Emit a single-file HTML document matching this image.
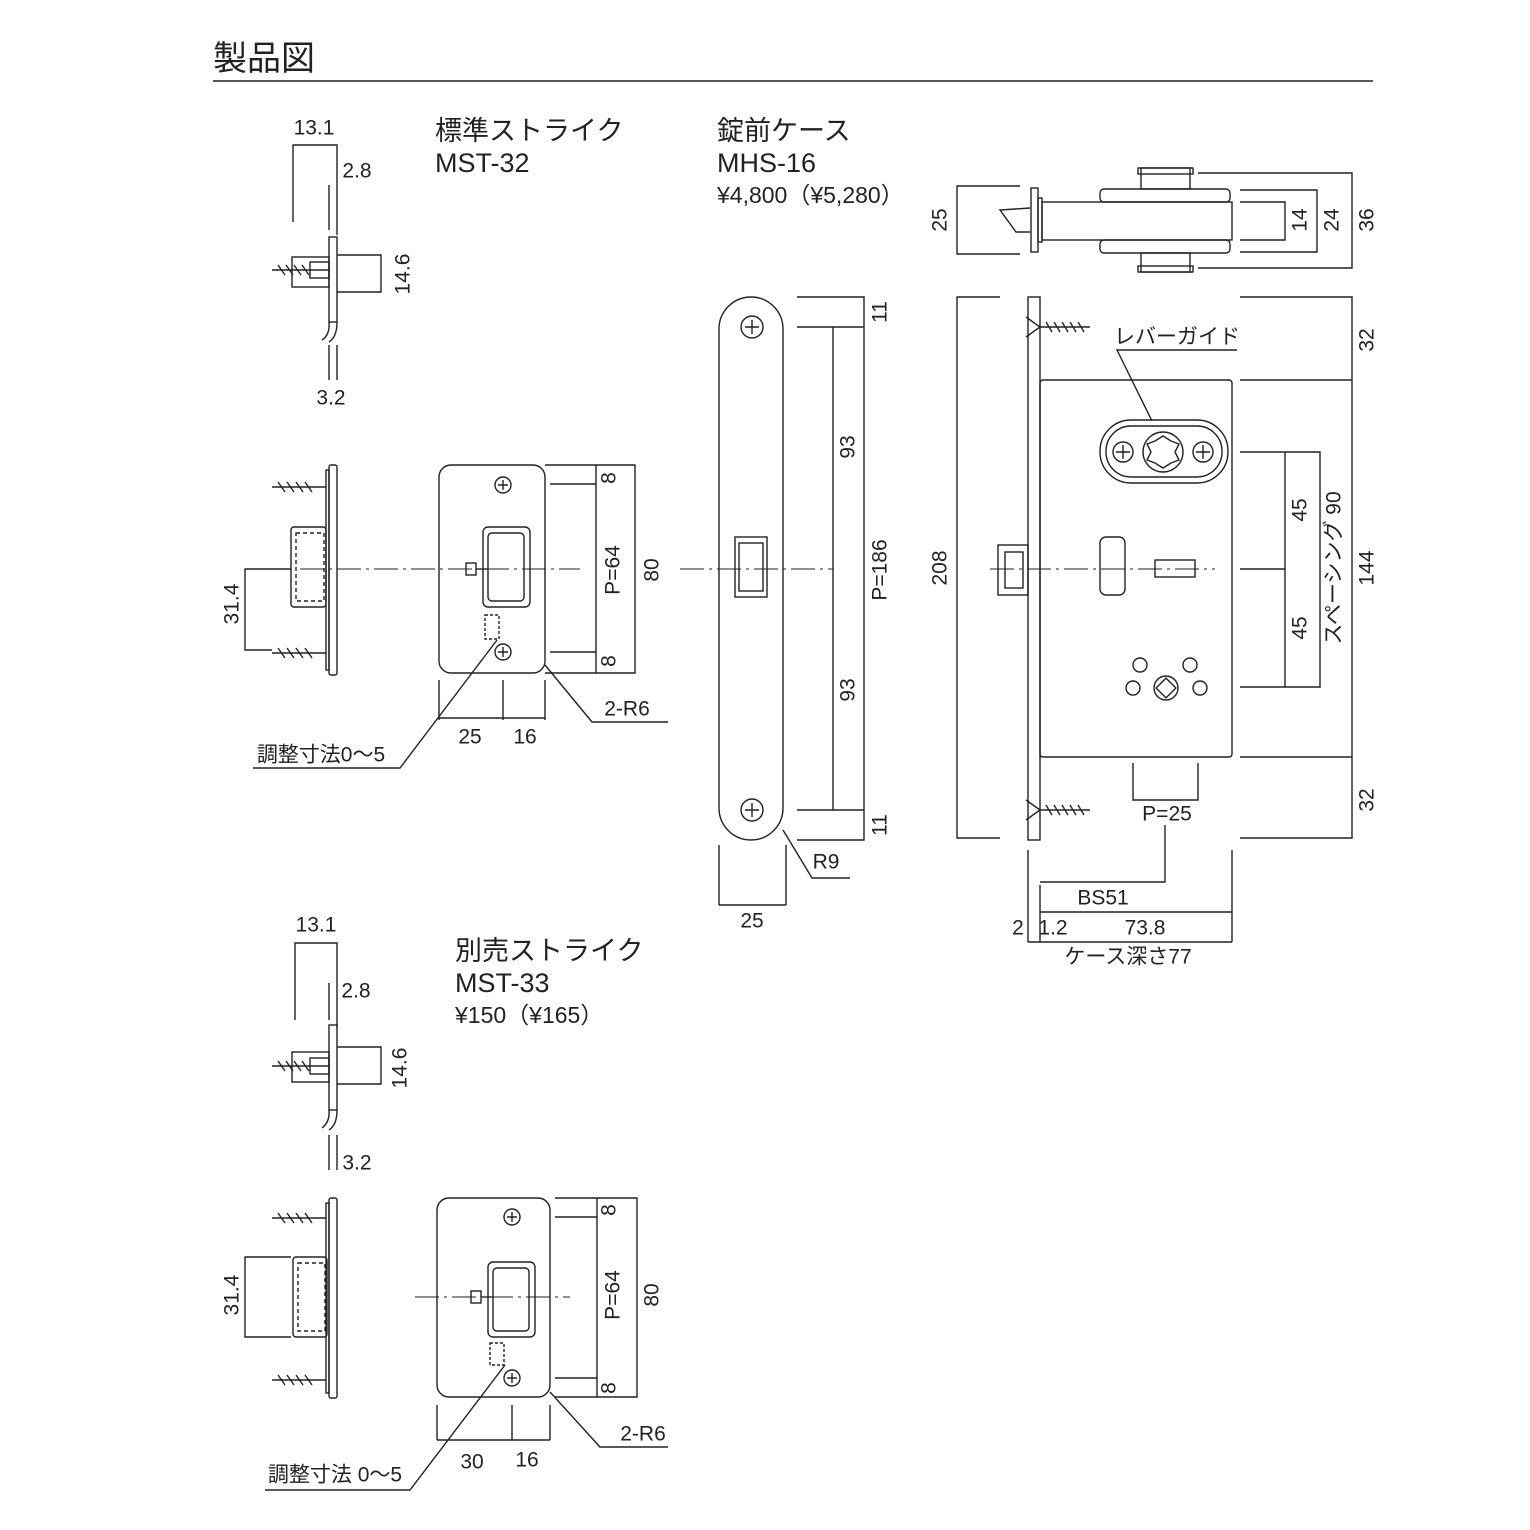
<!DOCTYPE html>
<html><head><meta charset="utf-8"><style>
html,body{margin:0;padding:0;background:#fff}
svg{display:block}
text{font-family:"Liberation Sans","Noto Sans CJK JP",sans-serif;fill:#222}
</style></head><body>
<svg width="1530" height="1530" viewBox="0 0 1530 1530" xmlns="http://www.w3.org/2000/svg">
<g fill="none" stroke="#222" stroke-width="1.4">
<line x1="213" y1="81" x2="1373" y2="81"/>

<polyline points="293,222 293,145 337,145 337,235"/>
<line x1="329" y1="185" x2="329" y2="230"/>
<rect x="329" y="237" width="8" height="85"/>
<path d="M329,322 Q330,335 322,340 M337,322 Q337,337 329,342"/>
<line x1="329" y1="345" x2="329" y2="380"/><line x1="337" y1="345" x2="337" y2="380"/>
<rect x="292" y="257" width="37" height="30"/>
<path d="M272,270 L330,270 M278,265 L285,275 M286,265 L293,275 M294,265 L301,275 M302,265 L309,275" />
<rect x="310" y="262" width="19" height="16"/>
<polyline points="337,255 381,255 381,292 337,292"/>

<rect x="329" y="465" width="8" height="210" rx="2"/>
<rect x="326" y="470" width="3" height="200"/>
<path d="M272,487 L326,487 M278,482 L285,492 M287,482 L294,492 M296,482 L303,492 M305,482 L312,492"/>
<path d="M272,653 L326,653 M278,648 L285,658 M287,648 L294,658 M296,648 L303,658 M305,648 L312,658"/>
<rect x="291" y="527" width="35" height="80" rx="3"/>
<rect x="296" y="533" width="28" height="68" stroke-dasharray="4,3"/>
<polyline points="291,569 245,569 245,650 272,650"/>
<line x1="300" y1="569" x2="580" y2="569" stroke-dasharray="24,5,3,5" stroke-width="1"/>

<rect x="439" y="465" width="106" height="208" rx="12"/>
<circle cx="503" cy="485" r="8"/><path d="M498,485h10M503,480v10"/>
<circle cx="503" cy="652" r="8"/><path d="M498,652h10M503,647v10"/>
<rect x="483" y="527" width="47" height="80" rx="5"/>
<rect x="488" y="533" width="36" height="68" rx="4"/>
<rect x="466" y="563" width="10" height="12"/>
<line x1="476" y1="569" x2="488" y2="569"/>
<rect x="485" y="615" width="14" height="24" stroke-dasharray="3,2"/>
<polyline points="545,465 635,465 635,673 545,673"/>
<line x1="596" y1="465" x2="596" y2="673"/>
<line x1="550" y1="484" x2="596" y2="484"/><line x1="550" y1="652" x2="596" y2="652"/>
<line x1="439" y1="680" x2="439" y2="720"/><line x1="503" y1="680" x2="503" y2="720"/><line x1="545" y1="680" x2="545" y2="720"/>
<line x1="439" y1="718" x2="545" y2="718"/>
<polyline points="545,665 592,722 668,722"/>
<polyline points="253,768 400,768 497,640"/>

<rect x="719" y="297" width="64" height="543" rx="32"/>
<circle cx="752" cy="327" r="11"/><path d="M745,327h14M752,320v14"/>
<circle cx="752" cy="810" r="11"/><path d="M745,810h14M752,803v14"/>
<rect x="735" y="537" width="32" height="60"/>
<rect x="739" y="543" width="24" height="48"/>
<line x1="680" y1="569" x2="833" y2="569" stroke-dasharray="24,5,3,5" stroke-width="1"/>
<polyline points="797,297 864,297 864,840 797,840"/>
<line x1="797" y1="327" x2="864" y2="327"/><line x1="797" y1="810" x2="864" y2="810"/>
<line x1="833" y1="327" x2="833" y2="810"/>
<line x1="719" y1="845" x2="719" y2="905"/><line x1="786" y1="845" x2="786" y2="905"/>
<line x1="719" y1="905" x2="786" y2="905"/>
<polyline points="783,830 812,878 850,878"/>

<polyline points="1020,186 957,186 957,254 1020,254"/>
<path d="M1030,208 L1000,210 L1016,232 L1030,232"/>
<rect x="1031" y="188" width="7" height="64"/>
<rect x="1038" y="198" width="4" height="44"/>
<rect x="1042" y="202" width="190" height="38"/>
<rect x="1100" y="189" width="130" height="13" rx="4"/>
<rect x="1100" y="240" width="130" height="13" rx="4"/>
<rect x="1141" y="168" width="49" height="21"/>
<rect x="1138" y="168" width="55" height="6"/>
<rect x="1141" y="253" width="49" height="19"/>
<rect x="1138" y="266" width="55" height="6"/>
<polyline points="1240,202 1285,202 1285,240 1240,240"/>
<polyline points="1240,190 1317,190 1317,252 1240,252"/>
<polyline points="1198,173 1352,173 1352,268 1198,268"/>

<rect x="1028" y="297" width="12" height="543"/>
<rect x="1040" y="380" width="192" height="377" rx="3"/>
<path d="M1040,327 L1090,327 M1046,322 L1052,332 M1054,322 L1060,332 M1062,322 L1068,332 M1070,322 L1076,332 M1078,322 L1084,332"/>
<path d="M1026,317 L1040,327 L1026,337"/>
<path d="M1040,810 L1090,810 M1046,805 L1052,815 M1054,805 L1060,815 M1062,805 L1068,815 M1070,805 L1076,815 M1078,805 L1084,815"/>
<path d="M1026,800 L1040,810 L1026,820"/>
<rect x="1100" y="420" width="128" height="63" rx="31"/>
<rect x="1106" y="426" width="116" height="51" rx="25"/>
<circle cx="1123" cy="452" r="10"/><path d="M1116,452h14M1123,445v14"/>
<circle cx="1203" cy="452" r="10"/><path d="M1196,452h14M1203,445v14"/>
<circle cx="1163" cy="452" r="20"/>
<polygon points="1163,436 1171,441 1179,444 1175,452 1179,460 1171,463 1163,468 1155,463 1147,460 1151,452 1147,444 1155,441"/>
<polyline points="1237,350 1117,350 1152,421"/>
<rect x="998" y="545" width="30" height="50"/>
<rect x="1005" y="552" width="18" height="36"/>
<line x1="990" y1="569" x2="1215" y2="569" stroke-dasharray="24,5,3,5" stroke-width="1"/>
<rect x="1100" y="537" width="25" height="58" rx="6"/>
<rect x="1155" y="560" width="40" height="17"/>
<circle cx="1140" cy="665" r="7"/><circle cx="1190" cy="665" r="7"/>
<circle cx="1133" cy="688" r="7"/><circle cx="1200" cy="688" r="7"/>
<circle cx="1166" cy="688" r="12"/>
<rect x="1159" y="681" width="14" height="14" transform="rotate(45 1166 688)"/>
<polyline points="1000,297 957,297 957,838 1000,838"/>
<polyline points="1240,297 1352,297 1352,838 1240,838"/>
<line x1="1240" y1="380" x2="1352" y2="380"/><line x1="1240" y1="757" x2="1352" y2="757"/>
<polyline points="1240,452 1320,452 1320,687 1240,687"/>
<line x1="1240" y1="569" x2="1285" y2="569"/>
<line x1="1285" y1="452" x2="1285" y2="687"/>
<polyline points="1133,763 1133,800 1198,800 1198,763"/>
<polyline points="1165,825 1165,882 1040,882"/>
<line x1="1028" y1="850" x2="1028" y2="942"/><line x1="1232" y1="850" x2="1232" y2="942"/>
<line x1="1040" y1="885" x2="1040" y2="942"/>
<line x1="1040" y1="912" x2="1232" y2="912"/>
<line x1="1028" y1="942" x2="1232" y2="942"/>

<polyline points="295,1020 295,943 337,943 337,1028"/>
<line x1="329" y1="983" x2="329" y2="1020"/>
<rect x="329" y="1025" width="8" height="85"/>
<path d="M329,1110 Q330,1122 322,1128 M337,1110 Q337,1125 329,1130"/>
<line x1="329" y1="1135" x2="329" y2="1170"/><line x1="337" y1="1135" x2="337" y2="1170"/>
<rect x="292" y="1052" width="37" height="30"/>
<path d="M272,1066 L330,1066 M278,1061 L285,1071 M286,1061 L293,1071 M294,1061 L301,1071 M302,1061 L309,1071"/>
<rect x="310" y="1058" width="19" height="16"/>
<polyline points="337,1047 381,1047 381,1084 337,1084"/>

<rect x="329" y="1198" width="8" height="200" rx="2"/>
<rect x="326" y="1203" width="3" height="190"/>
<path d="M272,1218 L326,1218 M278,1213 L285,1223 M287,1213 L294,1223 M296,1213 L303,1223 M305,1213 L312,1223"/>
<path d="M272,1380 L326,1380 M278,1375 L285,1385 M287,1375 L294,1385 M296,1375 L303,1385 M305,1375 L312,1385"/>
<rect x="293" y="1257" width="34" height="80" rx="3"/>
<rect x="298" y="1263" width="27" height="68" stroke-dasharray="4,3"/>
<polyline points="291,1257 245,1257 245,1337 291,1337"/>

<rect x="437" y="1198" width="113" height="199" rx="12"/>
<circle cx="512" cy="1217" r="8"/><path d="M507,1217h10M512,1212v10"/>
<circle cx="512" cy="1378" r="8"/><path d="M507,1378h10M512,1373v10"/>
<rect x="488" y="1262" width="47" height="75" rx="5"/>
<rect x="493" y="1268" width="36" height="63" rx="4"/>
<rect x="471" y="1291" width="10" height="12"/>
<line x1="481" y1="1297" x2="493" y2="1297"/>
<rect x="490" y="1343" width="14" height="22" stroke-dasharray="3,2"/>
<line x1="415" y1="1297" x2="570" y2="1297" stroke-dasharray="24,5,3,5" stroke-width="1"/>
<polyline points="555,1198 637,1198 637,1397 555,1397"/>
<line x1="597" y1="1198" x2="597" y2="1397"/>
<line x1="555" y1="1217" x2="597" y2="1217"/><line x1="555" y1="1378" x2="597" y2="1378"/>
<line x1="437" y1="1405" x2="437" y2="1440"/><line x1="512" y1="1405" x2="512" y2="1440"/><line x1="550" y1="1405" x2="550" y2="1440"/>
<line x1="437" y1="1440" x2="550" y2="1440"/>
<polyline points="550,1392 600,1447 668,1447"/>
<polyline points="265,1490 410,1490 505,1365"/>
</g>

<g font-size="21">
<text x="213" y="70" font-size="34">製品図</text>
<text x="435" y="140" font-size="27">標準ストライク</text>
<text x="435" y="172" font-size="27">MST-32</text>
<text x="717" y="140" font-size="27">錠前ケース</text>
<text x="717" y="172" font-size="27">MHS-16</text>
<text x="717" y="203" font-size="23">¥4,800（¥5,280）</text>
<text x="455" y="960" font-size="27">別売ストライク</text>
<text x="455" y="992" font-size="27">MST-33</text>
<text x="455" y="1023" font-size="23">¥150（¥165）</text>

<g text-anchor="middle" dominant-baseline="central">
<text x="314" y="128">13.1</text>
<text x="357" y="171">2.8</text>
<text x="331" y="398">3.2</text>
<text transform="translate(403,274) rotate(-90)">14.6</text>
<text transform="translate(232,604) rotate(-90)">31.4</text>
<text transform="translate(609,478) rotate(-90)">8</text>
<text transform="translate(609,661) rotate(-90)">8</text>
<text transform="translate(613,570) rotate(-90)">P=64</text>
<text transform="translate(652,570) rotate(-90)">80</text>
<text x="470" y="737">25</text>
<text x="525" y="737">16</text>
<text x="627" y="709">2-R6</text>
<text x="321" y="755">調整寸法0〜5</text>

<text transform="translate(880,312) rotate(-90)">11</text>
<text transform="translate(848,447) rotate(-90)">93</text>
<text transform="translate(880,570) rotate(-90)">P=186</text>
<text transform="translate(848,690) rotate(-90)">93</text>
<text transform="translate(880,825) rotate(-90)">11</text>
<text x="752" y="921">25</text>
<text x="826" y="862">R9</text>

<text transform="translate(940,220) rotate(-90)">25</text>
<text transform="translate(1300,220) rotate(-90)">14</text>
<text transform="translate(1332,220) rotate(-90)">24</text>
<text transform="translate(1367,220) rotate(-90)">36</text>
<text x="1177" y="337">レバーガイド</text>
<text transform="translate(940,568) rotate(-90)">208</text>
<text transform="translate(1367,340) rotate(-90)">32</text>
<text transform="translate(1367,568) rotate(-90)">144</text>
<text transform="translate(1367,800) rotate(-90)">32</text>
<text transform="translate(1300,510) rotate(-90)">45</text>
<text transform="translate(1300,628) rotate(-90)">45</text>
<text transform="translate(1334,568) rotate(-90)">スペーシング 90</text>
<text x="1167" y="814">P=25</text>
<text x="1103" y="898">BS51</text>
<text x="1018" y="928">2</text>
<text x="1053" y="928">1.2</text>
<text x="1145" y="928">73.8</text>
<text x="1128" y="957">ケース深さ77</text>

<text x="316" y="925">13.1</text>
<text x="356" y="991">2.8</text>
<text x="357" y="1163">3.2</text>
<text transform="translate(400,1068) rotate(-90)">14.6</text>
<text transform="translate(232,1295) rotate(-90)">31.4</text>
<text transform="translate(609,1210) rotate(-90)">8</text>
<text transform="translate(609,1388) rotate(-90)">8</text>
<text transform="translate(613,1295) rotate(-90)">P=64</text>
<text transform="translate(652,1295) rotate(-90)">80</text>
<text x="472" y="1462">30</text>
<text x="527" y="1460">16</text>
<text x="643" y="1434">2-R6</text>
<text x="335" y="1475">調整寸法 0〜5</text>
</g>
</g>
</svg>
</body></html>
